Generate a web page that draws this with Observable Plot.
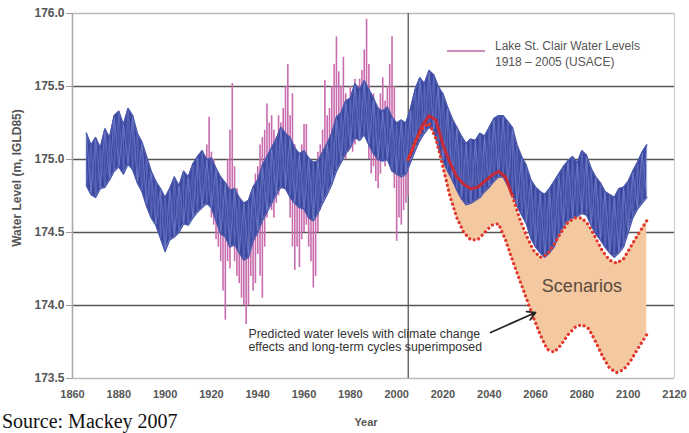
<!DOCTYPE html>
<html><head><meta charset="utf-8">
<script src="https://cdn.jsdelivr.net/npm/d3@7"></script>
<script src="https://cdn.jsdelivr.net/npm/@observablehq/plot@0.6"></script>
<style>
html,body{margin:0;padding:0;background:#fff;}
#wrap{position:relative;width:689px;height:433px;overflow:hidden;font-family:"Liberation Sans",Arial,sans-serif;}
#wrap svg{position:absolute;left:0;top:0;}
.ov{position:absolute;white-space:nowrap;}
</style></head><body>
<div id="wrap">
  <div class="ov" style="left:447px;top:50px;width:38px;height:0;border-top:2px solid #d08cb8;"></div>
  <div class="ov" style="left:495px;top:39px;font-size:12px;line-height:15.6px;color:#555;">Lake St. Clair Water Levels<br>1918 – 2005 (USACE)</div>
  <div class="ov" id="ytitle" style="left:17px;top:178px;font-size:12px;font-weight:bold;color:#555;transform:translate(-50%,-50%) rotate(-90deg);">Water Level (m, IGLD85)</div>
  <div class="ov" style="left:366px;top:422px;transform:translate(-50%,-50%);font-size:11px;font-weight:bold;color:#555;">Year</div>
  <div class="ov" style="left:2px;top:411px;font-family:'Liberation Serif','Times New Roman',serif;font-size:20px;line-height:20px;color:#111;">Source: Mackey 2007</div>
</div>
<script>
// ---- axis ticks ----
const xTicks = [1860,1880,1900,1920,1940,1960,1980,2000,2020,2040,2060,2080,2100,2120];
const yTicks = [173.5,174.0,174.5,175.0,175.5,176.0];
const gridY = [174.0,174.5,175.0,175.5];
const dividerYear = [2005];

// ---- simulated levels (blue band), sampled every 2 years: upper and lower envelope ----
const blueYears = d3.range(1866, 2109, 2);
const blueHi = [175.18,175.10,175.15,175.08,175.21,175.15,175.30,175.33,175.24,175.35,
  175.30,175.18,175.12,175.02,174.92,174.85,174.80,174.74,174.80,174.88,
  174.82,174.92,174.88,174.97,175.02,175.06,175.00,175.01,174.94,174.88,
  174.84,174.79,174.80,174.74,174.70,174.72,174.81,174.86,174.96,175.02,
  175.08,175.14,175.22,175.18,175.15,175.08,175.04,175.06,175.01,174.98,
  174.99,175.05,175.11,175.18,175.29,175.32,175.40,175.42,175.52,175.48,
  175.54,175.48,175.42,175.35,175.33,175.36,175.29,175.25,175.27,175.25,
  175.35,175.48,175.56,175.52,175.61,175.58,175.50,175.45,175.36,175.28,
  175.22,175.16,175.11,175.14,175.13,175.18,175.16,175.22,175.28,175.30,
  175.30,175.26,175.22,175.10,175.02,174.96,174.86,174.81,174.78,174.76,
  174.80,174.85,174.90,174.95,174.99,175.02,174.98,175.06,175.03,174.94,
  174.88,174.84,174.78,174.76,174.74,174.80,174.81,174.85,174.92,174.98,
  175.05,175.10];
const blueLo = [174.82,174.76,174.74,174.80,174.81,174.86,174.92,174.95,174.90,174.97,
  174.93,174.84,174.78,174.68,174.60,174.55,174.46,174.37,174.45,174.47,
  174.50,174.56,174.55,174.60,174.64,174.67,174.70,174.67,174.58,174.49,
  174.47,174.40,174.42,174.36,174.31,174.33,174.44,174.50,174.58,174.64,
  174.70,174.76,174.81,174.80,174.74,174.70,174.67,174.66,174.60,174.58,
  174.63,174.70,174.76,174.83,174.92,174.98,175.04,175.08,175.15,175.13,
  175.17,175.10,175.04,175.00,174.99,175.00,174.92,174.90,174.88,174.90,
  174.98,175.06,175.13,175.18,175.22,175.20,175.08,174.99,174.92,174.86,
  174.79,174.73,174.69,174.70,174.72,174.74,174.78,174.81,174.85,174.88,
  174.88,174.82,174.76,174.68,174.62,174.56,174.46,174.40,174.36,174.33,
  174.36,174.40,174.48,174.54,174.58,174.60,174.61,174.63,174.62,174.55,
  174.49,174.45,174.40,174.36,174.33,174.36,174.40,174.50,174.60,174.66,
  174.70,174.74];

// ---- observed Lake St. Clair levels 1918–2005 (USACE), yearly max / min ----
const pinkYears = d3.range(1918, 2006);
const pinkHi = [175.10,175.29,175.05,175.00,174.90,174.85,174.80,174.75,174.70,175.00,
  175.20,175.52,174.95,174.80,174.70,174.60,174.65,174.70,174.60,174.75,
  174.80,174.90,174.95,175.10,175.15,175.20,175.38,175.25,175.30,175.20,
  175.15,175.30,175.25,175.35,175.50,175.65,175.30,175.45,175.10,175.00,
  174.95,175.10,175.24,175.24,175.00,174.90,174.85,174.90,175.05,175.10,
  175.20,175.54,175.30,175.35,175.50,175.65,175.84,175.60,175.50,175.70,
  175.45,175.40,175.50,175.45,175.55,175.50,175.55,175.61,175.75,175.96,
  175.65,175.40,175.45,175.35,175.30,175.45,175.56,175.40,175.50,175.65,
  175.84,175.50,175.20,175.10,175.00,175.05,175.00,175.05];
const pinkLo = [174.70,174.80,174.60,174.55,174.45,174.40,174.30,174.10,173.90,174.30,
  174.25,174.40,174.30,174.20,174.15,174.05,174.00,173.87,174.00,174.20,
  174.10,174.15,174.35,174.20,174.05,174.40,174.60,174.70,174.65,174.60,
  174.70,174.75,174.80,174.85,174.90,174.95,174.60,174.40,174.24,174.40,
  174.26,174.45,174.50,174.55,174.40,174.30,174.12,174.20,174.50,174.65,
  174.70,174.80,174.85,174.90,175.00,175.05,175.10,175.05,175.10,175.10,
  175.00,175.05,175.10,175.05,175.10,175.15,175.15,175.20,175.20,175.25,
  175.00,174.90,174.95,174.85,174.80,174.90,175.00,174.95,175.00,175.05,
  175.00,174.80,174.44,174.60,174.55,174.65,174.70,174.75];

// ---- climate-change scenarios 2005–2108: upper and lower bounds ----
const scenYears = [2005,2008,2011,2014,2017,2020,2023,2026,2029,2032,2035,2038,2041,2044,2047,2050,
  2053,2056,2059,2062,2065,2068,2071,2074,2077,2080,2083,2086,2089,2092,2095,2098,2101,2104,2108];
const scenUpper = [175.00,175.12,175.23,175.30,175.27,175.10,174.98,174.88,174.83,174.80,174.81,174.85,174.89,174.92,174.88,174.75,
  174.60,174.48,174.38,174.33,174.35,174.42,174.50,174.57,174.60,174.60,174.55,174.46,174.37,174.31,174.29,174.32,174.40,174.48,174.58];
const scenLower = [175.00,175.12,175.21,175.25,175.14,174.95,174.75,174.60,174.50,174.45,174.45,174.50,174.55,174.56,174.45,174.31,
  174.18,174.05,173.92,173.80,173.70,173.68,173.73,173.80,173.85,173.87,173.84,173.75,173.65,173.57,173.54,173.56,173.62,173.70,173.80];
const solidUntil = 2050;

// ---- annotation texts ----
const noteText = "Predicted water levels with climate change\neffects and long-term cycles superimposed";
const scenLabel = "Scenarios";

// ---- build tables ----
const blue = blueYears.map((year,i)=>({year, hi: blueHi[i], lo: blueLo[i]}));
const zigA = blue.map((d,i)=>({year:d.year, v: i%2 ? d.lo : d.hi}));
const zigB = blue.map((d,i)=>({year:d.year, v: i%2 ? d.hi : d.lo}));
const pink = pinkYears.map((year,i)=>({year, hi: pinkHi[i], lo: pinkLo[i]}));
const scen = scenYears.map((year,i)=>({year, upper: scenUpper[i], lower: scenLower[i]}));

const dotted = {stroke:"#e2382c", strokeWidth:3.2, strokeDasharray:"0.1 4.8", strokeLinecap:"round", strokeLinejoin:"round"};

const chart = Plot.plot({
  width: 689, height: 433,
  marginLeft: 72, marginRight: 15, marginTop: 13, marginBottom: 55,
  x: {domain:[1860,2120], label:null},
  y: {domain:[173.5,176], label:null},
  style: {fontFamily:"'Liberation Sans', Arial, sans-serif", fontSize:"11px", fontWeight:"bold", color:"#555", background:"transparent", overflow:"visible"},
  marks: [
    Plot.ruleY(gridY, {stroke:"#555", strokeWidth:1.3}),
    Plot.ruleY([176], {stroke:"#bbb", strokeWidth:1.6}),
    Plot.ruleY([173.5], {stroke:"#bbb", strokeWidth:1.6}),
    Plot.ruleX([1860], {stroke:"#aaa", strokeWidth:1.6}),
    Plot.ruleX([2120], {stroke:"#ccc", strokeWidth:1.2}),
    Plot.ruleX(dividerYear, {stroke:"#555", strokeWidth:1.3}),
    Plot.areaY(scen, {x:"year", y1:"lower", y2:"upper", fill:"#f4c8a0"}),
    Plot.ruleX(pink, {x:"year", y1:"lo", y2:"hi", stroke:"#c86cae", strokeWidth:1.6}),
    Plot.areaY(blue, {x:"year", y1:"lo", y2:"hi", fill:"#3c48a0"}),
    Plot.ruleX(blue, {x:"year", y1:"lo", y2:"hi", stroke:"#7482cc", strokeWidth:0.8, strokeOpacity:0.7}),
    Plot.line(zigA, {x:"year", y:"v", stroke:"#7b88cf", strokeWidth:0.9, strokeOpacity:0.75}),
    Plot.line(zigB, {x:"year", y:"v", stroke:"#5e6cbc", strokeWidth:0.9, strokeOpacity:0.7}),
    Plot.line(blue, {x:"year", y:"hi", stroke:"#4b58ac", strokeWidth:1.4}),
    Plot.line(blue, {x:"year", y:"lo", stroke:"#4b58ac", strokeWidth:1.4}),
    Plot.line(scen.filter(d=>d.year<=solidUntil), {x:"year", y:"upper", stroke:"#c42a3a", strokeWidth:3}),
    Plot.line(scen.filter(d=>d.year>=solidUntil), {x:"year", y:"upper", ...dotted}),
    Plot.line(scen, {x:"year", y:"lower", ...dotted}),
    Plot.text([noteText], {x:1936, y:173.76, text:d=>d, textAnchor:"start", lineAnchor:"middle", lineHeight:1.08, fontSize:12.3, fontWeight:"normal", fill:"#333"}),
    Plot.arrow([{x1:2040.6, y1:173.815, x2:2060, y2:173.952}], {x1:"x1", y1:"y1", x2:"x2", y2:"y2", stroke:"#222", strokeWidth:1.7, headLength:8}),
    Plot.text([scenLabel], {x:2080, y:174.13, text:d=>d, fontSize:18, fontWeight:"normal", fill:"#5a4a3c"}),
    Plot.axisX(xTicks, {tickSize:0, tickPadding:12, tickFormat:d=>String(d), fill:"#555"}),
    Plot.axisY(yTicks, {tickSize:6, tickPadding:2, tickFormat:d=>d.toFixed(1), stroke:"#999", fill:"#555", fontSize:12})
  ]
});
document.getElementById("wrap").prepend(chart);
</script>
</body></html>
